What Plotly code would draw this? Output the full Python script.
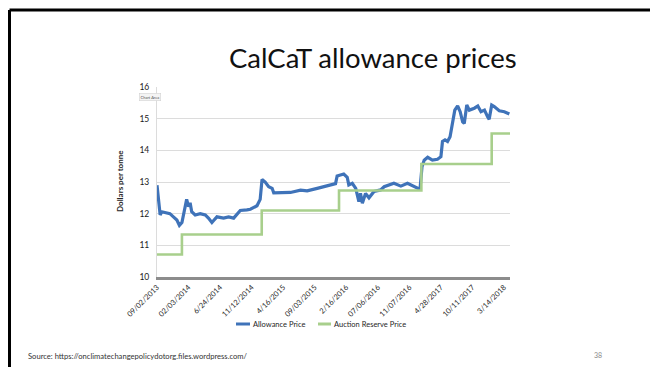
import plotly.graph_objects as go

# Daily allowance settlement price (observation index, $/tonne)
obs = [0, 4, 10, 15, 25, 41, 52, 63, 71, 79, 86, 94, 100, 105, 110, 121, 137, 153,
       163, 174, 181, 190, 211, 227, 243, 253, 264, 285, 296, 317, 327, 333, 343,
       354, 365, 370, 391, 423, 455, 476, 508, 540, 566, 571, 592, 603, 608, 619,
       630, 640, 645, 651, 661, 672, 683, 688, 709, 720, 751, 773, 794, 804, 815,
       831, 834, 840, 847, 858, 873, 889, 900, 905, 913, 921, 929, 937, 944, 953,
       961, 969, 974, 982, 990, 1006, 1017, 1027, 1038, 1048, 1053, 1061, 1069,
       1085, 1101, 1117]
allowance_price = [12.9, 12.54, 11.96, 12.06, 12.04, 12.0, 11.9, 11.8, 11.63, 11.72,
                   12.06, 12.45, 12.22, 12.34, 12.06, 11.96, 12.0, 11.96, 11.86,
                   11.72, 11.8, 11.9, 11.86, 11.9, 11.86, 11.96, 12.1, 12.12, 12.14,
                   12.25, 12.45, 13.08, 13.0, 12.85, 12.8, 12.66, 12.67, 12.67,
                   12.74, 12.72, 12.8, 12.87, 12.95, 13.19, 13.25, 13.15, 12.91,
                   12.96, 12.8, 12.38, 12.64, 12.33, 12.64, 12.5, 12.64, 12.7, 12.75,
                   12.85, 12.96, 12.87, 12.96, 12.91, 12.85, 12.78, 12.8, 13.48,
                   13.69, 13.78, 13.69, 13.72, 13.8, 14.28, 14.33, 14.28, 14.43,
                   14.85, 15.27, 15.4, 15.22, 14.9, 14.85, 15.43, 15.27, 15.33, 15.4,
                   15.22, 15.27, 15.06, 14.98, 15.43, 15.38, 15.25, 15.22, 15.15]

# Auction reserve price (step changes)
reserve_obs = [0, 79, 332, 577, 838, 1061, 1119]
reserve_price = [10.71, 11.34, 12.10, 12.73, 13.57, 14.53, 14.53]

# Category labels shown every 100 observations
tick_obs = [0, 100, 200, 300, 400, 500, 600, 700, 800, 900, 1000, 1100]
tick_labels = ["09/02/2013", "02/03/2014", "6/24/2014", "11/12/2014", "4/16/2015",
               "09/03/2015", "2/16/2016", "07/06/2016", "11/07/2016", "4/28/2017",
               "10/11/2017", "3/14/2018"]

BLUE = "#3f73b9"
GREEN = "#a8cf8c"
FONT = "Lato"

W, H = 650, 367
L, R, T, B = 157, 140, 87, 90
pw, ph = W - L - R, H - T - B


def px(x):
    return (x - L) / pw


def py(y):
    return (H - B - y) / ph


fig = go.Figure()
fig.add_trace(go.Scatter(x=obs, y=allowance_price, mode="lines",
                         line=dict(color=BLUE, width=3.2), name="Allowance Price"))
fig.add_trace(go.Scatter(x=reserve_obs, y=reserve_price, mode="lines",
                         line=dict(color=GREEN, width=2.6, shape="hv"),
                         name="Auction Reserve Price"))

shapes = [
    # slide frame
    dict(type="line", xref="paper", yref="paper", x0=px(9.5), x1=px(660),
         y0=py(10), y1=py(10), line=dict(color="black", width=3)),
    dict(type="line", xref="paper", yref="paper", x0=px(9.5), x1=px(9.5),
         y0=py(10), y1=py(380), line=dict(color="black", width=3)),
    # legend keys
    dict(type="line", xref="paper", yref="paper", x0=px(236), x1=px(250),
         y0=py(324), y1=py(324), line=dict(color=BLUE, width=3)),
    dict(type="line", xref="paper", yref="paper", x0=px(318), x1=px(331),
         y0=py(324), y1=py(324), line=dict(color=GREEN, width=3)),
]

annotations = [
    dict(text="CalCaT allowance prices", xref="paper", yref="paper",
         x=px(373), y=py(58), xanchor="center", yanchor="middle", showarrow=False,
         font=dict(family=FONT, size=27.5, color="#111111")),
    dict(text="<b>Dollars per tonne</b>", xref="paper", yref="paper",
         x=px(120), y=py(181), textangle=-90, xanchor="center", yanchor="middle",
         showarrow=False, font=dict(family=FONT, size=8, color="#262626")),
    dict(text="Chart Area", xref="paper", yref="paper", x=px(149.5), y=py(96.5),
         xanchor="center", yanchor="middle", showarrow=False,
         font=dict(family=FONT, size=4, color="#555555"),
         bgcolor="#f4f4f4", bordercolor="#cccccc", borderwidth=0.5, borderpad=1),
    dict(text="Allowance Price", xref="paper", yref="paper", x=px(251), y=py(324),
         xanchor="left", yanchor="middle", showarrow=False,
         font=dict(family=FONT, size=7.5, color="#262626")),
    dict(text="Auction Reserve Price", xref="paper", yref="paper", x=px(332),
         y=py(324), xanchor="left", yanchor="middle", showarrow=False,
         font=dict(family=FONT, size=7.5, color="#262626")),
    dict(text="Source: https://onclimatechangepolicydotorg.files.wordpress.com/",
         xref="paper", yref="paper", x=px(26), y=py(356), xanchor="left",
         yanchor="middle", showarrow=False,
         font=dict(family=FONT, size=7.6, color="#333333")),
    dict(text="38", xref="paper", yref="paper", x=px(598), y=py(355),
         xanchor="center", yanchor="middle", showarrow=False,
         font=dict(family=FONT, size=7, color="#8a8a8a")),
]

fig.update_layout(
    width=W, height=H,
    margin=dict(l=L, r=R, t=T, b=B),
    paper_bgcolor="white", plot_bgcolor="white",
    showlegend=False,
    shapes=shapes, annotations=annotations,
    xaxis=dict(range=[0, 1119], tickmode="array", tickvals=tick_obs,
               ticktext=tick_labels, tickangle=-45, showgrid=False,
               showline=True, linecolor="#8c8c8c", linewidth=3, ticks="",
               tickfont=dict(family=FONT, size=7.5, color="#262626"), zeroline=False),
    yaxis=dict(range=[10, 16], dtick=1, showgrid=True, gridcolor="#dcdcdc",
               gridwidth=1, showline=True, linecolor="#dcdcdc", linewidth=1,
               ticks="", ticklen=0, zeroline=False, ticklabelstandoff=5,
               tickfont=dict(family=FONT, size=8.5, color="#1a1a1a")),
)

fig.write_html("out.html")
